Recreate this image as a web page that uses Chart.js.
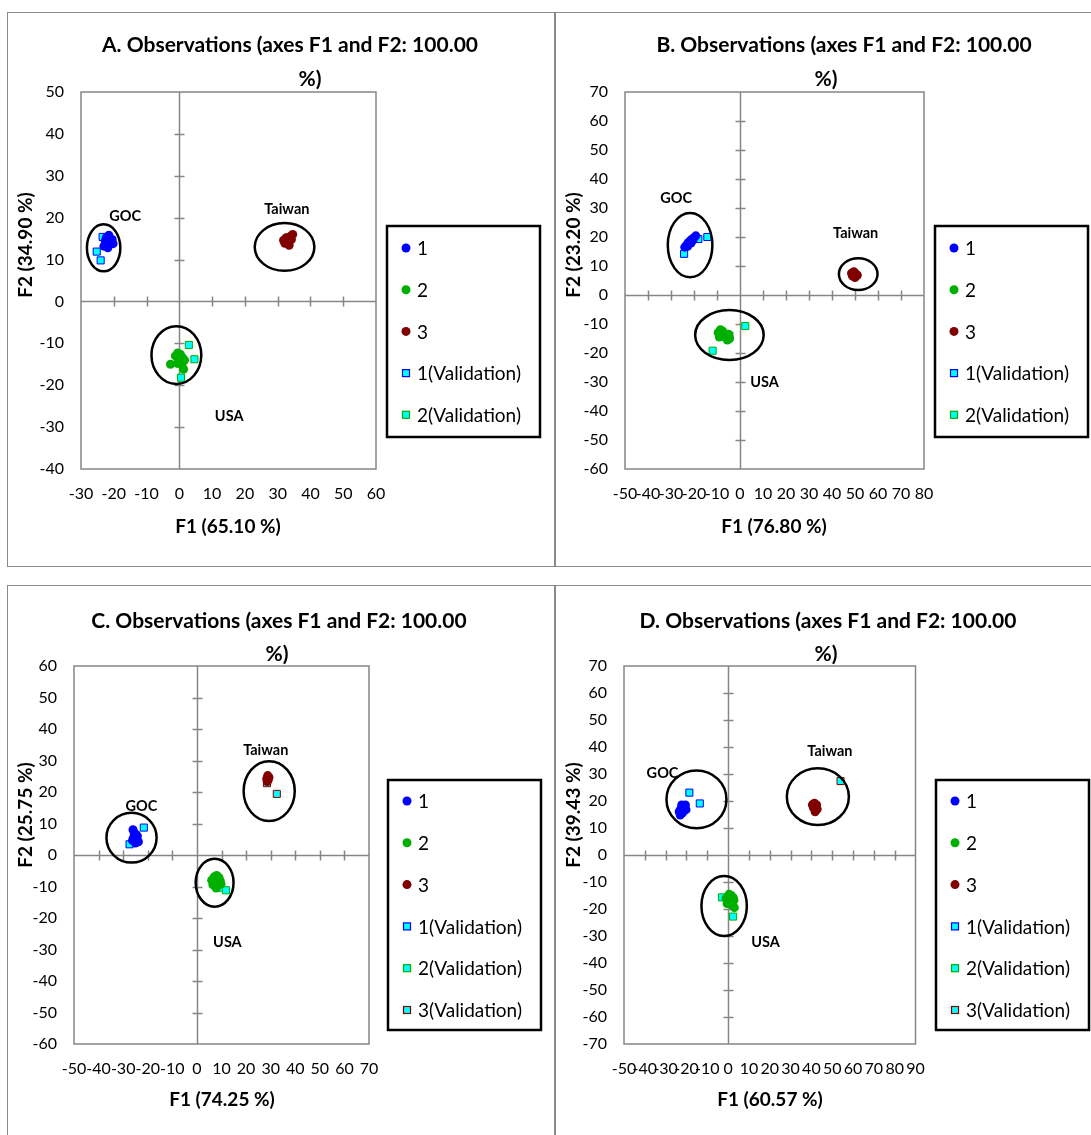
<!DOCTYPE html>
<html>
<head>
<meta charset="utf-8">
<script src="https://cdn.jsdelivr.net/npm/chart.js@4/dist/chart.umd.min.js"></script>
<style>
  html, body { margin: 0; padding: 0; background: #fff; overflow: hidden; }
  body { width: 1091px; height: 1135px; position: relative; }
  .panel { position: absolute; width: 548px; height: 555px; border: 1px solid #8a8a8a; box-sizing: border-box; }
  .panel canvas { position: absolute; left: 0; top: 0; }
</style>
</head>
<body>
<div class="panel" style="left:7px; top:12px;"><canvas id="chartA" width="546" height="553"></canvas></div>
<div class="panel" style="left:555px; top:12px;"><canvas id="chartB" width="546" height="553"></canvas></div>
<div class="panel" style="left:7px; top:585px;"><canvas id="chartC" width="546" height="553"></canvas></div>
<div class="panel" style="left:555px; top:585px;"><canvas id="chartD" width="546" height="553"></canvas></div>

<script>
// ---- data (F1, F2 scores) ----
const SERIES_LABELS = ['1', '2', '3', '1(Validation)', '2(Validation)', '3(Validation)'];

// A
const A_GROUP1 = [[-21.5,15.8],[-22.3,15.2],[-20.5,14.8],[-21.0,14.0],[-22.0,13.6],[-23.0,13.2],[-20.2,13.8],[-21.8,12.8],[-22.6,14.5]];
const A_GROUP2 = [[-2.7,-15.0],[-1.2,-13.0],[0.3,-12.6],[-0.5,-12.3],[1.0,-13.4],[0.0,-14.2],[1.3,-16.2],[0.8,-15.2],[-0.6,-14.8],[1.6,-14.0]];
const A_GROUP3 = [[31.8,14.6],[32.6,15.2],[34.6,16.0],[33.5,13.4],[33.0,14.2],[34.2,14.8],[32.2,13.9],[33.8,15.5]];
const A_VALID1 = [[-23.4,15.4],[-25.2,11.9],[-24.0,9.8]];
const A_VALID2 = [[2.9,-10.4],[4.6,-13.8],[0.5,-18.2]];

// B
const B_GROUP1 = [[-24.0,16.5],[-23.2,17.3],[-22.5,18.0],[-21.8,18.6],[-21.0,19.2],[-20.0,19.8],[-19.2,20.4],[-22.8,16.8],[-21.3,17.9],[-20.5,18.9]];
const B_GROUP2 = [[-9.5,-13.0],[-8.5,-12.0],[-7.5,-12.5],[-8.0,-14.0],[-6.5,-14.5],[-5.5,-15.5],[-4.5,-15.0],[-7.0,-13.5],[-9.0,-14.5],[-5.0,-13.5]];
const B_GROUP3 = [[48.5,7.5],[49.5,8.0],[50.5,7.2],[49.0,6.5],[50.0,6.0],[51.0,6.8],[49.8,7.6],[48.8,7.0]];
const B_VALID1 = [[-24.3,14.2],[-18.1,19.3],[-14.2,20.0]];
const B_VALID2 = [[2.3,-10.7],[-4.6,-14.0],[-11.9,-19.2]];

// C
const C_GROUP1 = [[-26.0,8.0],[-25.5,7.0],[-24.8,6.5],[-25.8,5.5],[-24.5,5.0],[-23.8,4.2],[-25.0,3.8],[-26.2,4.6],[-24.2,6.0]];
const C_GROUP2 = [[6.0,-8.0],[7.0,-7.0],[8.0,-6.5],[9.0,-7.2],[9.5,-8.2],[7.5,-8.5],[6.5,-9.5],[8.5,-9.8],[7.8,-10.5],[9.8,-9.2]];
const C_GROUP3 = [[28.8,25.2],[29.3,24.6],[28.4,24.2],[29.0,23.8],[28.6,23.3]];
const C_VALID1 = [[-27.4,3.4],[-21.6,8.7]];
const C_VALID2 = [[9.6,-10.4],[11.8,-11.2]];
const C_VALID3 = [[28.5,22.8],[32.5,19.4]];

// D
const D_GROUP1 = [[-23.5,16.0],[-22.8,17.0],[-21.5,17.8],[-20.5,18.5],[-21.0,16.5],[-22.0,15.5],[-23.0,14.8],[-20.2,16.8],[-22.3,18.5]];
const D_GROUP2 = [[0.5,-14.5],[1.5,-15.0],[2.5,-15.8],[-1.0,-16.0],[0.0,-17.0],[1.0,-17.5],[2.0,-18.5],[3.0,-19.5],[-0.5,-18.0],[2.8,-16.8]];
const D_GROUP3 = [[40.5,18.5],[41.5,19.2],[42.5,18.5],[41.0,17.5],[42.8,17.0],[41.8,16.0],[42.2,17.8],[40.8,18.8]];
const D_VALID1 = [[-18.6,23.1],[-13.6,19.1]];
const D_VALID2 = [[-2.9,-15.7],[1.1,-17.7],[2.4,-22.8]];
const D_VALID3 = [[54.0,27.4]];

// axis ranges [min, max], step 10
const A_X_RANGE = [-30, 60], A_Y_RANGE = [-40, 50];
const B_X_RANGE = [-50, 80], B_Y_RANGE = [-60, 70];
const C_X_RANGE = [-50, 70], C_Y_RANGE = [-60, 60];
const D_X_RANGE = [-50, 90], D_Y_RANGE = [-70, 70];

const TITLES = ['A', 'B', 'C', 'D'].map(l => [l + '. Observations (axes F1 and F2: 100.00', '%)']);
const X_TITLES = ['F1 (65.10 %)', 'F1 (76.80 %)', 'F1 (74.25 %)', 'F1 (60.57 %)'];
const Y_TITLES = ['F2 (34.90 %)', 'F2 (23.20 %)', 'F2 (25.75 %)', 'F2 (39.43 %)'];

// cluster ellipses [cx, cy, rx, ry] in F1/F2 units: GOC, Taiwan, USA
const A_ELLIPSES = [[-23.1,12.8,5.1,5.6],[32.1,13.0,9.1,5.7],[-0.9,-12.8,7.6,6.9]];
const B_ELLIPSES = [[-21.7,17.2,9.7,11.1],[51.4,7.2,8.4,5.5],[-4.6,-13.8,14.9,8.6]];
const C_ELLIPSES = [[-26.6,5.5,10.2,7.9],[29.4,20.3,10.4,9.5],[7.2,-8.8,7.7,7.6]];
const D_ELLIPSES = [[-15.2,20.6,14.4,10.7],[43.1,21.6,14.9,10.5],[-1.9,-18.9,10.9,11.1]];
const CLUSTER_NAMES = ['GOC', 'Taiwan', 'USA'];
const A_NAME_POS = [[-16.5,20.3],[32.8,21.9],[15.2,-27.4]];
const B_NAME_POS = [[-27.8,33.3],[50.3,21.3],[10.7,-30.1]];
const C_NAME_POS = [[-22.6,15.3],[28.0,33.3],[12.4,-27.7]];
const D_NAME_POS = [[-31.5,30.3],[48.9,38.3],[18.0,-32.3]];

// ---- styles ----
const FONT = 'Lato, "Open Sans", sans-serif';
const AXIS_GREY = '#868686';
const STYLES = [
  { pointStyle: 'circle', radius: 4.5, fill: '#0000ff', stroke: '#0000ff', bw: 0 },
  { pointStyle: 'circle', radius: 4.5, fill: '#00b000', stroke: '#00b000', bw: 0 },
  { pointStyle: 'circle', radius: 4.5, fill: '#800000', stroke: '#800000', bw: 0 },
  { pointStyle: 'rect', radius: 5, fill: '#00ffff', stroke: '#0000ff', bw: 1 },
  { pointStyle: 'rect', radius: 5, fill: '#00ffff', stroke: '#00b000', bw: 1 },
  { pointStyle: 'rect', radius: 5, fill: '#00ffff', stroke: '#800000', bw: 1 }
];

// frame, zero axes with cross ticks, ellipses, labels, titles and legend box
const decorPlugin = {
  id: 'decor',
  beforeDatasetsDraw(chart, args, o) {
    const { ctx, chartArea: a, scales: { x, y } } = chart;
    ctx.save();
    ctx.strokeStyle = AXIS_GREY;
    ctx.lineWidth = 1.5;
    ctx.strokeRect(a.left, a.top, a.right - a.left, a.bottom - a.top);
    const x0 = Math.round(x.getPixelForValue(0)) + 0.5;
    const y0 = Math.round(y.getPixelForValue(0)) + 0.5;
    ctx.beginPath();
    ctx.moveTo(x0, a.top); ctx.lineTo(x0, a.bottom);
    ctx.moveTo(a.left, y0); ctx.lineTo(a.right, y0);
    x.ticks.forEach(t => {
      if (t.value === x.min || t.value === x.max) return;
      const px = Math.round(x.getPixelForValue(t.value)) + 0.5;
      ctx.moveTo(px, y0 - 5); ctx.lineTo(px, y0 + 5);
    });
    y.ticks.forEach(t => {
      if (t.value === y.min || t.value === y.max || t.value === 0) return;
      const py = Math.round(y.getPixelForValue(t.value)) + 0.5;
      ctx.moveTo(x0 - 5, py); ctx.lineTo(x0 + 5, py);
    });
    ctx.stroke();
    ctx.restore();
  },
  afterDatasetsDraw(chart, args, o) {
    const { ctx, scales: { x, y } } = chart;
    ctx.save();
    ctx.strokeStyle = '#000';
    ctx.lineWidth = 2.5;
    o.ellipses.forEach(e => {
      const cx = x.getPixelForValue(e[0]), cy = y.getPixelForValue(e[1]);
      const rx = Math.abs(x.getPixelForValue(e[0] + e[2]) - cx);
      const ry = Math.abs(y.getPixelForValue(e[1] + e[3]) - cy);
      ctx.beginPath();
      ctx.ellipse(cx, cy, rx, ry, 0, 0, Math.PI * 2);
      ctx.stroke();
    });
    ctx.fillStyle = '#000';
    ctx.font = 'bold 14.5px ' + FONT;
    ctx.textAlign = 'center';
    ctx.textBaseline = 'middle';
    o.names.forEach((p, i) => {
      ctx.fillText(CLUSTER_NAMES[i], x.getPixelForValue(p[0]), y.getPixelForValue(p[1]));
    });
    ctx.restore();
  },
  afterDraw(chart, args, o) {
    const { ctx } = chart;
    ctx.save();
    ctx.fillStyle = '#000';
    ctx.textAlign = 'center';
    ctx.textBaseline = 'middle';
    ctx.font = 'bold 21px ' + FONT;
    o.title.forEach((line, i) => ctx.fillText(line, o.titleX[i], o.titleY[i]));
    ctx.font = 'bold 19px ' + FONT;
    ctx.fillText(o.xTitle, o.xTitlePos[0], o.xTitlePos[1]);
    ctx.save();
    ctx.translate(o.yTitlePos[0], o.yTitlePos[1]);
    ctx.rotate(-Math.PI / 2);
    ctx.fillText(o.yTitle, 0, 0);
    ctx.restore();

    // legend
    const L = o.legend;
    const items = chart.data.datasets;
    ctx.strokeStyle = '#000';
    ctx.lineWidth = 2.5;
    ctx.strokeRect(L.left, L.top, L.width, L.height);
    ctx.font = '19px ' + FONT;
    ctx.textAlign = 'left';
    items.forEach((ds, i) => {
      const cy = L.top + L.first + i * L.step;
      const mx = L.left + 19;
      ctx.fillStyle = ds.backgroundColor;
      ctx.strokeStyle = ds.borderColor;
      if (ds.pointStyle === 'circle') {
        ctx.beginPath();
        ctx.arc(mx, cy, 4.5, 0, Math.PI * 2);
        ctx.fill();
      } else {
        ctx.lineWidth = 1.2;
        ctx.fillRect(mx - 3.5, cy - 3.5, 7, 7);
        ctx.strokeRect(mx - 3.5, cy - 3.5, 7, 7);
      }
      ctx.fillStyle = '#000';
      ctx.fillText(ds.label, L.left + 30, cy + 1);
    });
    ctx.restore();
  }
};

function makePanel(id, groups, xr, yr, area, decor) {
  const canvas = document.getElementById(id);
  const W = canvas.width, H = canvas.height;
  const datasets = groups.map((pts, i) => ({
    label: SERIES_LABELS[i],
    data: pts.map(p => ({ x: p[0], y: p[1] })),
    pointStyle: STYLES[i].pointStyle,
    pointRadius: STYLES[i].radius,
    backgroundColor: STYLES[i].fill,
    borderColor: STYLES[i].stroke,
    pointBorderWidth: STYLES[i].bw,
    pointHoverRadius: STYLES[i].radius
  }));
  const tickFont = { family: FONT, size: 16 };
  return new Chart(canvas, {
    type: 'scatter',
    data: { datasets },
    options: {
      responsive: false,
      animation: false,
      layout: { padding: { left: 0, top: area.top, right: W - area.right, bottom: 0 } },
      plugins: { legend: { display: false }, tooltip: { enabled: false }, decor },
      scales: {
        x: {
          type: 'linear', min: xr[0], max: xr[1],
          grid: { display: false, drawTicks: false }, border: { display: false },
          ticks: { stepSize: 10, autoSkip: false, maxRotation: 0, padding: 15, color: '#000', font: tickFont },
          afterFit: s => { s.height = H - area.bottom; }
        },
        y: {
          type: 'linear', min: yr[0], max: yr[1],
          grid: { display: false, drawTicks: false }, border: { display: false },
          ticks: { stepSize: 10, autoSkip: false, padding: 17, color: '#000', font: tickFont },
          afterFit: s => { s.width = area.left; }
        }
      }
    },
    plugins: [decorPlugin]
  });
}

const legendTop = { left: 379, top: 213, width: 153, height: 211, first: 22, step: 41.7 };
const legendBottom = { left: 380, top: 194, width: 153, height: 250, first: 21, step: 41.8 };

makePanel('chartA', [A_GROUP1, A_GROUP2, A_GROUP3, A_VALID1, A_VALID2], A_X_RANGE, A_Y_RANGE,
  { left: 73, top: 79, right: 368, bottom: 456 },
  { title: TITLES[0], titleX: [282, 302], titleY: [32, 66], xTitle: X_TITLES[0], xTitlePos: [220, 514],
    yTitle: Y_TITLES[0], yTitlePos: [18, 232], ellipses: A_ELLIPSES, names: A_NAME_POS, legend: legendTop });

makePanel('chartB', [B_GROUP1, B_GROUP2, B_GROUP3, B_VALID1, B_VALID2], B_X_RANGE, B_Y_RANGE,
  { left: 69, top: 79, right: 368, bottom: 456 },
  { title: TITLES[1], titleX: [288, 270], titleY: [32, 66], xTitle: X_TITLES[1], xTitlePos: [218, 514],
    yTitle: Y_TITLES[1], yTitlePos: [18, 232], ellipses: B_ELLIPSES, names: B_NAME_POS, legend: legendTop });

makePanel('chartC', [C_GROUP1, C_GROUP2, C_GROUP3, C_VALID1, C_VALID2, C_VALID3], C_X_RANGE, C_Y_RANGE,
  { left: 66, top: 80, right: 361, bottom: 458 },
  { title: TITLES[2], titleX: [271, 269], titleY: [35, 68], xTitle: X_TITLES[2], xTitlePos: [214, 514],
    yTitle: Y_TITLES[2], yTitlePos: [18, 229], ellipses: C_ELLIPSES, names: C_NAME_POS, legend: legendBottom });

makePanel('chartD', [D_GROUP1, D_GROUP2, D_GROUP3, D_VALID1, D_VALID2, D_VALID3], D_X_RANGE, D_Y_RANGE,
  { left: 68, top: 80, right: 359.5, bottom: 458 },
  { title: TITLES[3], titleX: [272, 270], titleY: [35, 68], xTitle: X_TITLES[3], xTitlePos: [214, 514],
    yTitle: Y_TITLES[3], yTitlePos: [18, 229], ellipses: D_ELLIPSES, names: D_NAME_POS, legend: legendBottom });
</script>
</body>
</html>
